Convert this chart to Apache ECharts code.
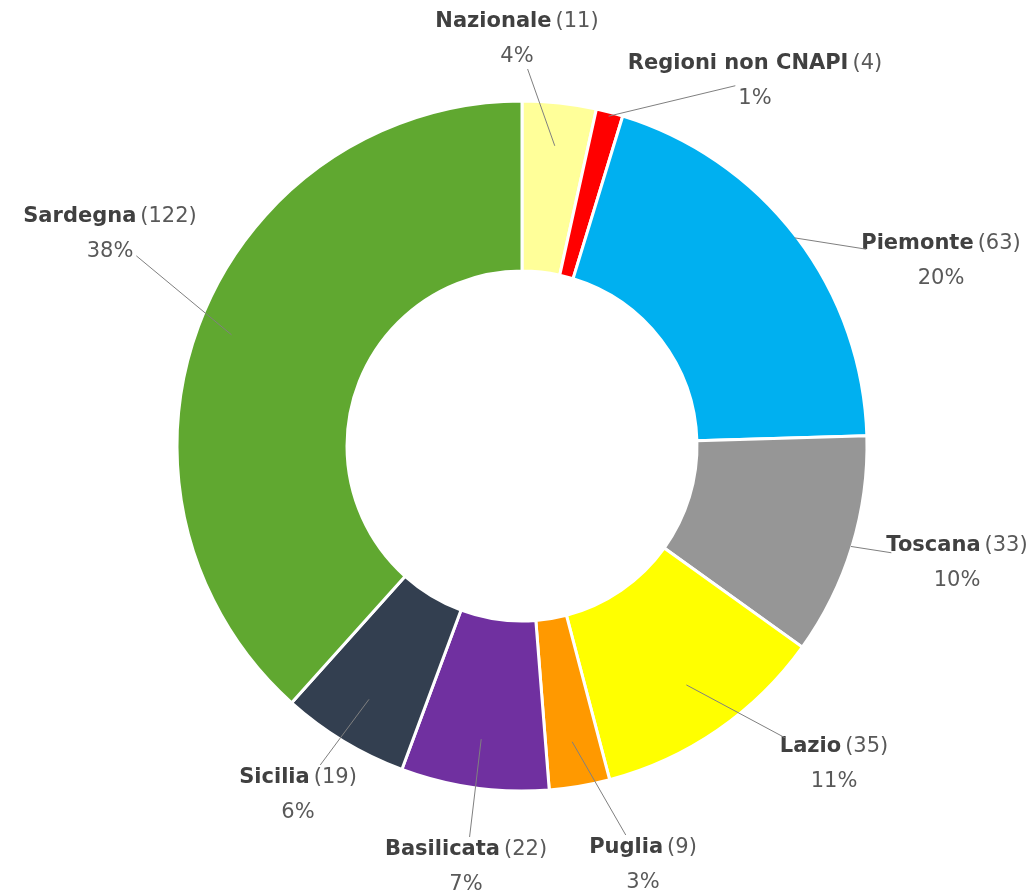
<!DOCTYPE html>
<html>
<head>
<meta charset="utf-8">
<script src="https://cdn.jsdelivr.net/npm/echarts@6/dist/echarts.min.js"></script>
<style>
html,body{margin:0;padding:0;background:#fff;}
#chart{width:1033px;height:892px;}
</style>
</head>
<body>
<div id="chart"></div>
<script>
const categories = ['Nazionale','Regioni non CNAPI','Piemonte','Toscana','Lazio','Puglia','Basilicata','Sicilia','Sardegna'];
const values = [11, 4, 63, 33, 35, 9, 22, 19, 122];
const colors = ['#FFFF99','#FF0000','#00B0F0','#969696','#FFFF00','#FF9900','#7030A0','#333F50','#60A830'];

// layout (label block centres, leader depth into the ring)
const CX = 522, CY = 446, R_IN = 175, R_OUT = 345;
const labelCenters = [[517,39],[755,81],[941,261],[957,563],[834,764],[643,865],[466,867],[298,795],[110,234]];
const leaderRadius = [302,341,343,344,290,300,296,296,311];
const FONT = 'DejaVu Sans';
const FS = 21, LH = 35;

const total = values.reduce((a,b)=>a+b,0);
const cum = [];
values.reduce((acc,v,i)=>{cum[i]=acc; return acc+v;},0);
function midAngle(i){ return (cum[i] + values[i]/2) / total * 2 * Math.PI; }

// largest-remainder percentages (same as ECharts percentPrecision 0)
const ctx = document.createElement('canvas').getContext('2d');
function textW(str, bold){ ctx.font = (bold ? 'bold ' : '') + FS + 'px "' + FONT + '"'; return ctx.measureText(str).width; }

function rayRect(sx, sy, dx, dy, x0, y0, x1, y1) {
  let tmin = 0, tmax = 1;
  const ax = [[sx, dx, x0, x1], [sy, dy, y0, y1]];
  for (const [s, d, lo, hi] of ax) {
    if (Math.abs(d) < 1e-9) { if (s < lo || s > hi) return Infinity; continue; }
    let t1 = (lo - s) / d, t2 = (hi - s) / d;
    if (t1 > t2) { const k = t1; t1 = t2; t2 = k; }
    tmin = Math.max(tmin, t1); tmax = Math.min(tmax, t2);
    if (tmin > tmax) return Infinity;
  }
  return tmin;
}

let pctText = [];

const chart = echarts.init(document.getElementById('chart'), null, {renderer:'canvas'});
chart.setOption({
  animation: false,
  backgroundColor: '#ffffff',
  series: [{
    type: 'pie',
    z: 2,
    center: [CX, CY],
    radius: [R_IN, R_OUT],
    startAngle: 90,
    clockwise: true,
    percentPrecision: 0,
    avoidLabelOverlap: false,
    silent: true,
    itemStyle: { borderColor: '#ffffff', borderWidth: 3 },
    label: {
      show: true,
      position: 'outside',
      fontFamily: FONT,
      formatter: function (p) {
        pctText[p.dataIndex] = p.percent + '%';
        return '{n|' + p.name + '}{v|(' + p.value + ')}\n{p|' + p.percent + '%}';
      },
      rich: {
        n: { fontFamily: FONT, fontWeight: 'bold', fontSize: FS, color: '#404040', lineHeight: LH },
        v: { fontFamily: FONT, fontSize: FS, color: '#595959', lineHeight: LH, padding: [0, 0, 0, 4] },
        p: { fontFamily: FONT, fontSize: FS, color: '#595959', lineHeight: LH, align: 'center' }
      }
    },
    labelLine: { show: false },
    labelLayout: function (p) {
      const c = labelCenters[p.dataIndex];
      return { x: c[0], y: c[1], align: 'center', verticalAlign: 'middle' };
    },
    data: categories.map((c, i) => ({ name: c, value: values[i], itemStyle: { color: colors[i] } }))
  }, {
    type: 'custom',
    coordinateSystem: 'none',
    z: 10,
    silent: true,
    data: values.map((v, i) => [i]),
    renderItem: function (params) {
      const i = params.dataIndex;
      const a = midAngle(i);
      const r = leaderRadius[i];
      const sx = CX + r * Math.sin(a), sy = CY - r * Math.cos(a);
      const lx = labelCenters[i][0], ly = labelCenters[i][1];
      const wTop = textW(categories[i], true) + 4 + textW('(' + values[i] + ')', false);
      const wBot = textW(pctText[i] || '00%', false);
      const dx = lx - sx, dy = ly - sy;
      const tTop = rayRect(sx, sy, dx, dy, lx - wTop / 2 + 5, ly - LH + 5, lx + wTop / 2 - 5, ly);
      const tBot = rayRect(sx, sy, dx, dy, lx - wBot / 2 - 3, ly, lx + wBot / 2 + 3, ly + LH - 5);
      let t = Math.min(tTop, tBot);
      if (!isFinite(t)) t = 0.9;
      return {
        type: 'line',
        z2: 100,
        shape: { x1: sx, y1: sy, x2: sx + dx * t, y2: sy + dy * t },
        style: { stroke: '#808080', lineWidth: 1 }
      };
    }
  }]
});
</script>
</body>
</html>
